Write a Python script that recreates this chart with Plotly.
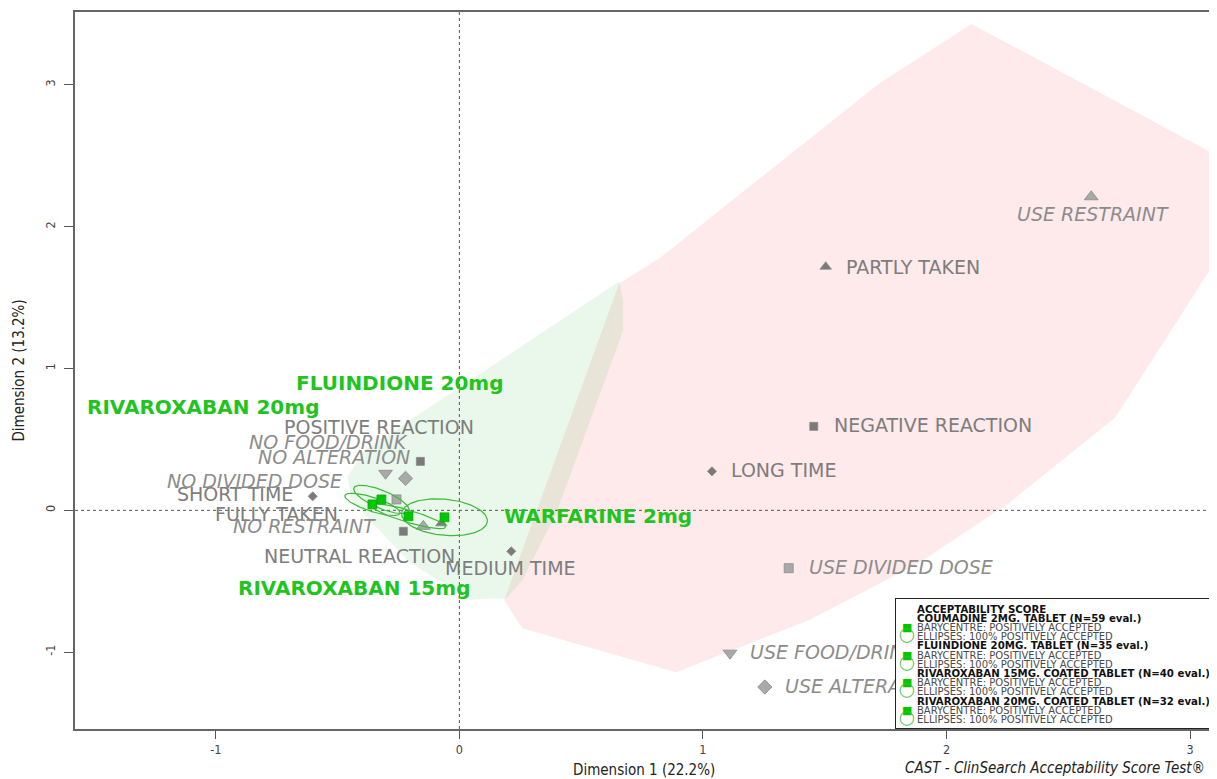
import numpy as np
import plotly.graph_objects as go

# ----------- Category coordinates (Dim 1 / Dim 2) -----------
cat_labels = ["USE RESTRAINT", "PARTLY TAKEN", "NEGATIVE REACTION", "LONG TIME",
              "USE DIVIDED DOSE", "USE FOOD/DRINK", "USE ALTERATION", "MEDIUM TIME",
              "NEUTRAL REACTION", "FULLY TAKEN", "NO RESTRAINT", "SHORT TIME",
              "NO DIVIDED DOSE", "NO ALTERATION", "NO FOOD/DRINK", "POSITIVE REACTION"]
cat_x = [2.594, 1.504, 1.455, 1.037, 1.352, 1.111, 1.254, 0.213,
         -0.230, -0.074, -0.148, -0.602, -0.258, -0.221, -0.303, -0.160]
cat_y = [2.211, 1.718, 0.592, 0.275, -0.408, -1.007, -1.246, -0.289,
         -0.148, -0.092, -0.113, 0.099, 0.077, 0.225, 0.261, 0.345]
cat_variable = ["restraint", "taken", "reaction", "time", "dose", "food", "alteration", "time",
                "reaction", "taken", "restraint", "time", "dose", "alteration", "food", "reaction"]

# ----------- Products: barycentres and ellipse axes -----------
prod_labels = ["WARFARINE 2mg", "FLUINDIONE 20mg", "RIVAROXABAN 15mg", "RIVAROXABAN 20mg"]
bary_x = [-0.061, -0.320, -0.209, -0.357]
bary_y = [-0.049, 0.077, -0.042, 0.042]
ell_major_x = [0.176, 0.113, 0.152, 0.113]
ell_major_y = [-0.028, -0.081, -0.077, -0.063]
ell_minor_x = [-0.005, -0.014, -0.007, -0.009]
ell_minor_y = [-0.127, -0.058, -0.041, -0.047]

# ----------- Hull polygons -----------
green_hull_x = [0.656, 0.672, 0.672, 0.398, 0.258, 0.193, 0.041, -0.205, -0.443, -0.459, -0.389]
green_hull_y = [1.613, 1.479, 1.268, -0.021, -0.493, -0.620, -0.627, -0.366, 0.070, 0.239, 0.423]
red_hull_x = [0.184, 0.258, 0.889, 1.434, 1.885, 2.254, 2.693, 3.197, 3.197, 2.102, 1.721, 0.820, 0.656]
red_hull_y = [-0.634, -0.831, -1.141, -0.775, -0.373, 0.049, 0.655, 2.007, 2.423, 3.430, 3.007, 1.775, 1.599]

# ----------- Axis ticks -----------
tick_vals = [-1, 0, 1, 2, 3]
tick_text = ["-1", "0", "1", "2", "3"]

legend_rows = [
    ("ACCEPTABILITY SCORE", "title"),
    ("COUMADINE 2MG. TABLET (N=59 eval.)", "title"),
    ("BARYCENTRE: POSITIVELY ACCEPTED", "bary"),
    ("ELLIPSES: 100% POSITIVELY ACCEPTED", "ell"),
    ("FLUINDIONE 20MG. TABLET (N=35 eval.)", "title"),
    ("BARYCENTRE: POSITIVELY ACCEPTED", "bary"),
    ("ELLIPSES: 100% POSITIVELY ACCEPTED", "ell"),
    ("RIVAROXABAN 15MG. COATED TABLET (N=40 eval.)", "title"),
    ("BARYCENTRE: POSITIVELY ACCEPTED", "bary"),
    ("ELLIPSES: 100% POSITIVELY ACCEPTED", "ell"),
    ("RIVAROXABAN 20MG. COATED TABLET (N=32 eval.)", "title"),
    ("BARYCENTRE: POSITIVELY ACCEPTED", "bary"),
    ("ELLIPSES: 100% POSITIVELY ACCEPTED", "ell"),
]

# ----------- Styles -----------
FONT = "DejaVu Sans"
COND = "DejaVu Sans Condensed, Liberation Sans Narrow, DejaVu Sans"
DARK = "#7a7a7a"
LIGHT = "#a9a9a9"
GREEN = "#1fc41f"

var_style = {
    "reaction":   dict(symbol="square", color=DARK, size=8, italic=False),
    "taken":      dict(symbol="triangle-up", color=DARK, size=10, italic=False),
    "time":       dict(symbol="diamond", color=DARK, size=7, italic=False),
    "dose":       dict(symbol="square", color=LIGHT, size=9, italic=True),
    "food":       dict(symbol="triangle-down", color=LIGHT, size=12, italic=True),
    "alteration": dict(symbol="diamond", color=LIGHT, size=11, italic=True),
    "restraint":  dict(symbol="triangle-up", color=LIGHT, size=12, italic=True),
}

# label placement (anchor, dx px, dy px downwards)
label_pos = {
    "USE RESTRAINT": ("center", 2, 17),
    "PARTLY TAKEN": ("left", 18, 0),
    "NEGATIVE REACTION": ("left", 18, -1),
    "LONG TIME": ("left", 17, -1),
    "USE DIVIDED DOSE": ("left", 18, -1),
    "USE FOOD/DRINK": ("left", 18, -1),
    "USE ALTERATION": ("left", 18, -1),
    "MEDIUM TIME": ("center", -1, 17),
    "NEUTRAL REACTION": ("center", -44, 25),
    "FULLY TAKEN": ("center", -165, -9),
    "NO RESTRAINT": ("center", -119, 0),
    "SHORT TIME": ("right", -18, -2),
    "NO DIVIDED DOSE": ("center", -142, -18),
    "NO ALTERATION": ("center", -72, -21),
    "NO FOOD/DRINK": ("center", -57, -31),
    "POSITIVE REACTION": ("center", -41, -34),
}
prod_label_pos = {
    "WARFARINE 2mg": ("left", 57, -1),
    "FLUINDIONE 20mg": ("center", 19, -116),
    "RIVAROXABAN 15mg": ("center", -54, 72),
    "RIVAROXABAN 20mg": ("center", -169, -97),
}

# page is drawn with an 8px body margin, so the figure is shrunk by that much
OFF = 8
W, H = 1217 - OFF, 779 - OFF
PLOT_L, PLOT_R, PLOT_T, PLOT_B = 75, 1215, 11, 729   # plot area in page pixels
L, T = PLOT_L - OFF, PLOT_T - OFF
R = W - (PLOT_R - OFF)
B = H - (PLOT_B - OFF)


def paper_x(p):
    return (p - PLOT_L) / (PLOT_R - PLOT_L)


def paper_y(p):
    return (PLOT_B - p) / (PLOT_B - PLOT_T)


fig = go.Figure()

# ----------- Hulls -----------
fig.add_trace(go.Scatter(x=red_hull_x, y=red_hull_y, fill="toself", mode="lines",
                         line=dict(width=0), fillcolor="rgba(245,20,40,0.095)", hoverinfo="skip"))
fig.add_trace(go.Scatter(x=green_hull_x, y=green_hull_y, fill="toself", mode="lines",
                         line=dict(width=0), fillcolor="rgba(20,185,40,0.095)", hoverinfo="skip"))

# ----------- Category markers -----------
for var, st in var_style.items():
    idx = [i for i, v in enumerate(cat_variable) if v == var]
    fig.add_trace(go.Scatter(
        x=[cat_x[i] for i in idx], y=[cat_y[i] for i in idx], mode="markers",
        marker=dict(symbol=st["symbol"], size=st["size"], color=st["color"],
                    line=dict(width=0.8, color="#8a8a8a")),
        hoverinfo="text", text=[cat_labels[i] for i in idx]))

# ----------- Ellipses -----------
t = np.linspace(0, 2 * np.pi, 120)
for i in range(len(prod_labels)):
    ex = bary_x[i] + ell_major_x[i] * np.cos(t) + ell_minor_x[i] * np.sin(t)
    ey = bary_y[i] + ell_major_y[i] * np.cos(t) + ell_minor_y[i] * np.sin(t)
    fig.add_trace(go.Scatter(x=ex, y=ey, mode="lines", line=dict(color="#3dba3d", width=1.2),
                             hoverinfo="skip"))

fig.add_trace(go.Scatter(x=bary_x, y=bary_y, mode="markers", text=prod_labels, hoverinfo="text",
                         marker=dict(symbol="square", size=9, color="#00c800",
                                     line=dict(width=0.6, color="#119911"))))

# ----------- Reference lines -----------
fig.add_shape(type="line", xref="x", yref="paper", x0=0, x1=0, y0=0, y1=1,
              line=dict(color="#555", width=1, dash="dot"), layer="below")
fig.add_shape(type="line", xref="paper", yref="y", x0=0, x1=1, y0=0, y1=0,
              line=dict(color="#555", width=1, dash="dot"), layer="below")

annotations = []
for i, lab in enumerate(cat_labels):
    anchor, dx, dy = label_pos[lab]
    st = var_style[cat_variable[i]]
    txt = "<i>" + lab + "</i>" if st["italic"] else lab
    annotations.append(dict(
        x=cat_x[i], y=cat_y[i], xref="x", yref="y", text=txt, showarrow=False,
        xanchor=anchor, yanchor="middle", xshift=dx, yshift=-dy,
        font=dict(family=FONT, size=19, color="#8c8c8c" if st["italic"] else "#7d7d7d")))

for i, lab in enumerate(prod_labels):
    anchor, dx, dy = prod_label_pos[lab]
    annotations.append(dict(
        x=bary_x[i], y=bary_y[i], xref="x", yref="y", text="<b>" + lab + "</b>", showarrow=False,
        xanchor=anchor, yanchor="middle", xshift=dx, yshift=-dy,
        font=dict(family=FONT, size=20, color=GREEN)))

# ----------- Legend box -----------
annotations.append(dict(
    x=1, y=0, xref="paper", yref="paper", xanchor="right", yanchor="bottom",
    text=" ", showarrow=False, width=316, height=129, borderpad=0,
    bgcolor="white", bordercolor="#222", borderwidth=1))

row_top, row_step = 609, 9.2
for k, (txt, kind) in enumerate(legend_rows):
    yp = paper_y(row_top + k * row_step)
    if kind == "title":
        annotations.append(dict(x=paper_x(916), y=yp, xref="paper", yref="paper",
                                xanchor="left", yanchor="middle", showarrow=False,
                                text="<b>" + txt + "</b>",
                                font=dict(family=FONT, size=10.2, color="#111")))
    else:
        annotations.append(dict(x=paper_x(916), y=yp, xref="paper", yref="paper",
                                xanchor="left", yanchor="middle", showarrow=False,
                                text=txt, font=dict(family=FONT, size=10, color="#4a4a4a")))
        if kind == "bary":
            annotations.append(dict(x=paper_x(908), y=yp, xref="paper", yref="paper",
                                    xanchor="center", yanchor="middle", showarrow=False,
                                    text="■", yshift=0,
                                    font=dict(family=FONT, size=11, color="#00c800")))
        else:
            annotations.append(dict(x=paper_x(908), y=yp, xref="paper", yref="paper",
                                    xanchor="center", yanchor="middle", showarrow=False,
                                    text="◯", yshift=2,
                                    font=dict(family=FONT, size=14, color="#3dba3d")))

# ----------- Axis titles / caption -----------
annotations.append(dict(x=0.5, y=paper_y(770), xref="paper", yref="paper", showarrow=False,
                        text="Dimension 1 (22.2%)", xanchor="center", yanchor="middle",
                        font=dict(family=COND, size=15, color="#222")))
annotations.append(dict(x=paper_x(18), y=paper_y(370), xref="paper", yref="paper", showarrow=False,
                        text="Dimension 2 (13.2%)", textangle=-90, xanchor="center", yanchor="middle",
                        font=dict(family=COND, size=15, color="#222")))
annotations.append(dict(x=paper_x(1209), y=paper_y(768), xref="paper", yref="paper", showarrow=False,
                        text="<i>CAST - ClinSearch Acceptability Score Test®</i>",
                        xanchor="right", yanchor="middle",
                        font=dict(family=COND, size=15, color="#222")))

fig.update_xaxes(range=[-1.578, 3.094], tickvals=tick_vals, ticktext=tick_text,
                 ticks="outside", ticklen=8, tickcolor="#555", showline=True, mirror=True,
                 linecolor="#666", linewidth=1.5, showgrid=False, zeroline=False,
                 tickfont=dict(family=COND, size=12.5, color="#444"))
fig.update_yaxes(range=[-1.542, 3.514], tickvals=tick_vals, ticktext=tick_text, tickangle=-90,
                 ticks="outside", ticklen=9, tickcolor="#555", showline=True, mirror=True,
                 linecolor="#666", linewidth=1.5, showgrid=False, zeroline=False,
                 ticklabelstandoff=4,
                 tickfont=dict(family=COND, size=12.5, color="#444"))

fig.update_layout(
    width=W, height=H, showlegend=False,
    plot_bgcolor="white", paper_bgcolor="white",
    margin=dict(l=L, r=R, t=T, b=B),
    annotations=annotations,
)

# no scrollbars: the figure plus the body margin is a few pixels wider than the window
fig.write_html("out.html", post_script="document.documentElement.style.overflow='hidden';"
                                       "document.body.style.overflow='hidden';")
